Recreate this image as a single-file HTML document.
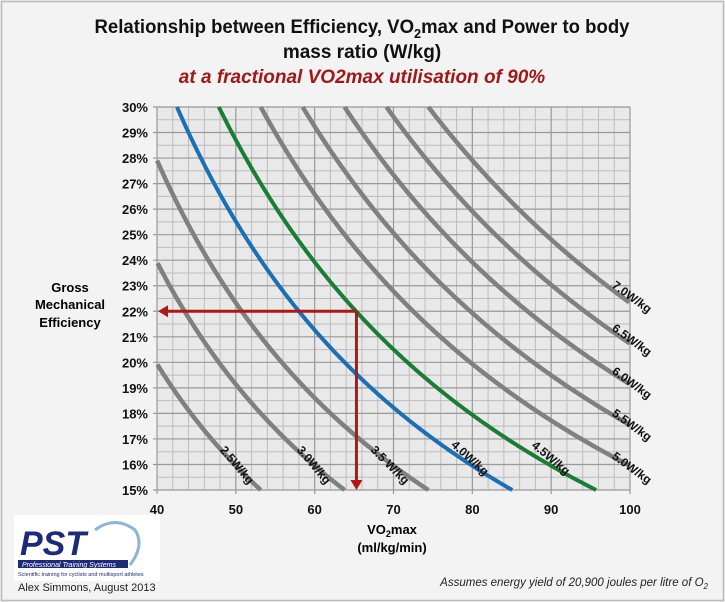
<!DOCTYPE html>
<html><head><meta charset="utf-8"><style>
body{margin:0;background:#fff}
svg{display:block;font-family:"Liberation Sans",sans-serif}
</style></head><body>
<svg id="s" width="725" height="602" viewBox="0 0 725 602" xmlns="http://www.w3.org/2000/svg">
<rect x="0" y="0" width="725" height="602" fill="#f3f3f3"/>
<rect x="1.5" y="1.5" width="722" height="599" fill="none" stroke="#bbb" stroke-width="1.5"/>
<text x="362" y="33" text-anchor="middle" font-size="19" font-weight="bold" fill="#111" textLength="535" lengthAdjust="spacingAndGlyphs">Relationship between Efficiency, VO<tspan font-size="13" dy="5">2</tspan><tspan dy="-5">max and Power to body</tspan></text>
<text x="362" y="58" text-anchor="middle" font-size="19" font-weight="bold" fill="#111">mass ratio (W/kg)</text>
<text x="362" y="83" text-anchor="middle" font-size="19" font-weight="bold" font-style="italic" fill="#a01818">at a fractional VO2max utilisation of 90%</text>
<rect x="157" y="107" width="473" height="383" fill="#e9e9e9"/>
<g id="grid"></g>
<g id="curves" fill="none" stroke-linecap="butt"></g>
<g font-size="13" font-weight="bold" fill="#111" id="ticks"></g>
<text x="70" y="292" text-anchor="middle" font-size="13" font-weight="bold">Gross</text>
<text x="70" y="309" text-anchor="middle" font-size="13" font-weight="bold">Mechanical</text>
<text x="70" y="327" text-anchor="middle" font-size="13" font-weight="bold">Efficiency</text>
<text x="392" y="534" text-anchor="middle" font-size="13" font-weight="bold">VO<tspan font-size="9" dy="3">2</tspan><tspan dy="-3">max</tspan></text>
<text x="392" y="552" text-anchor="middle" font-size="13" font-weight="bold">(ml/kg/min)</text>
<text x="708" y="586" text-anchor="end" font-size="11.5" font-style="italic" fill="#222">Assumes energy yield of 20,900 joules per litre of O<tspan font-size="8" dy="3">2</tspan></text>
<rect x="14" y="515" width="146" height="66" fill="#fff"/>
<text x="20" y="555" font-size="34" font-weight="bold" font-style="italic" fill="#1c2a78">PST</text>
<path d="M95 530 q20 -15 40 0 q10 15 -5 35" fill="none" stroke="#8ab4d8" stroke-width="3"/>
<rect x="18" y="560" width="110" height="8" fill="#1c2a78"/>
<text x="22" y="567" font-size="7" font-style="italic" fill="#fff">Professional Training Systems</text>
<text x="18" y="576" font-size="5.5" fill="#1c2a78">Scientific training for cyclists and multisport athletes</text>
<text x="18" y="591" font-size="11" fill="#222">Alex Simmons, August 2013</text>
</svg>
<script>
const NS="http://www.w3.org/2000/svg";
const X=v=>157+(v-40)*473/60, Y=e=>490-(e-15)*383/15;
function el(p,t,a,txt){const e=document.createElementNS(NS,t);for(const k in a)e.setAttribute(k,a[k]);if(txt)e.textContent=txt;p.appendChild(e);return e;}
const g=document.getElementById('grid');
for(let v=40;v<=100;v+=2){if(v%10)el(g,'line',{x1:X(v),x2:X(v),y1:107,y2:490,stroke:'#bdbdbd','stroke-width':1});}
for(let e=15;e<=30;e+=0.5){if(e%1)el(g,'line',{x1:157,x2:630,y1:Y(e),y2:Y(e),stroke:'#bdbdbd','stroke-width':1});}
for(let v=40;v<=100;v+=10)el(g,'line',{x1:X(v),x2:X(v),y1:107,y2:494,stroke:'#999','stroke-width':1.2});
for(let e=15;e<=30;e++)el(g,'line',{x1:153,x2:630,y1:Y(e),y2:Y(e),stroke:'#999','stroke-width':1.2});
const c=document.getElementById('curves');
const k=0.3135;
function curve(P,col,w){let d='',first=true;for(let i=0;i<=400;i++){const e=15+15*i/400;const v=P/(e/100*k);if(v<40||v>100)continue;d+=(first?'M':'L')+X(v).toFixed(1)+' '+Y(e).toFixed(1);first=false;}el(c,'path',{d:d,stroke:col,'stroke-width':w});}
[2.5,3,3.5,5,5.5,6,6.5,7].forEach(P=>curve(P,'#808080',4.5));
curve(4,'#1a6fb5',4);curve(4.5,'#1a7d35',4);
el(c,'path',{d:`M${X(65.3)} ${Y(22)} L${X(40)+8} ${Y(22)}`,stroke:'#b01818','stroke-width':3});
el(c,'path',{d:`M${X(65.3)} ${Y(22)} L${X(65.3)} ${490-8}`,stroke:'#b01818','stroke-width':3});
el(c,'path',{d:`M${X(40)+1} ${Y(22)} l10 -6 v12 z`,fill:'#b01818',stroke:'none'});
el(c,'path',{d:`M${X(65.3)} 490 l-6 -10 h12 z`,fill:'#b01818',stroke:'none'});
const t=document.getElementById('ticks');
for(let e=15;e<=30;e++)el(t,'text',{x:148,y:Y(e)+5,'text-anchor':'end'},e+'%');
for(let v=40;v<=100;v+=10)el(t,'text',{x:X(v),y:514,'text-anchor':'middle'},''+v);
const labs=[['2.5W/kg',237,465,50],['3.0W/kg',314,465,50],['3.5 W/kg',390,465,45],['4.0W/kg',470,458,42],['4.5W/kg',551,458,40],
['7.0W/kg',632,297,36],['6.5W/kg',632,340,36],['6.0W/kg',632,383,36],['5.5W/kg',632,425,36],['5.0W/kg',632,468,36]];
labs.forEach(([s,x,y,r])=>el(t,'text',{x:x,y:y+4,'text-anchor':'middle','font-size':12,'font-weight':'bold',transform:`rotate(${r} ${x} ${y})`},s));
</script>
</body></html>
